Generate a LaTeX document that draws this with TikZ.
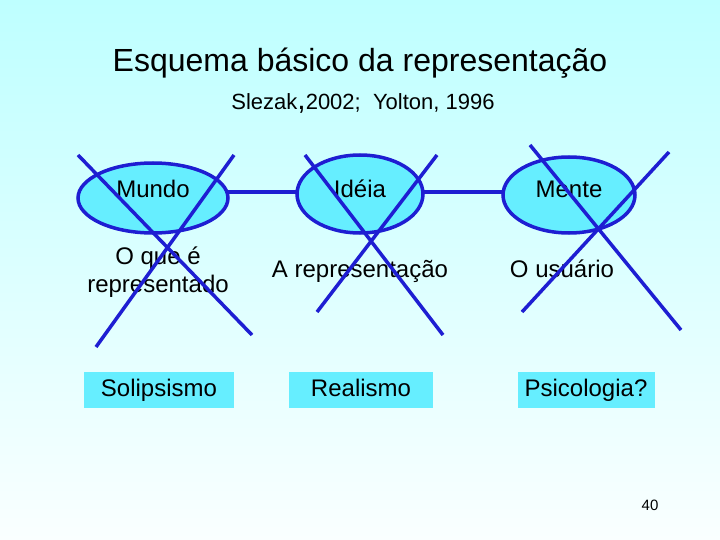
\documentclass[tikz,border=0pt]{standalone}
\usepackage{fontspec}
\setmainfont{Liberation Sans}
\definecolor{bgtop}{RGB}{190,255,255}
\definecolor{bgbot}{RGB}{250,255,255}
\definecolor{cyanfill}{RGB}{102,238,255}
\definecolor{xblue}{RGB}{30,30,210}
\begin{document}
\begin{tikzpicture}[x=1pt,y=-1pt,
  ell/.style={draw=xblue,line width=3.5pt,fill=cyanfill},
  lbl/.style={font=\fontsize{24}{28}\selectfont,align=center,text height=17pt,text depth=5pt},
  box/.style={fill=cyanfill,font=\fontsize{24}{28}\selectfont,minimum height=36pt,inner sep=0pt,text height=17pt,text depth=5pt},
  xline/.style={draw=xblue,line width=3.5pt}]
\shade[top color=bgtop,bottom color=bgbot] (0,0) rectangle (720,540);
\useasboundingbox (0,0) rectangle (720,540);
\node[font=\fontsize{32}{36}\selectfont] (title) at (360,63) {Esquema básico da representação};
\node[font=\fontsize{22}{26}\selectfont] (sub) at (363,103) {Slezak{\fontsize{30}{30}\selectfont,}2002; \ Yolton, 1996};
\path[xline] (153,192) -- (569,192);
\path[ell] (153,198) ellipse[x radius=75,y radius=35];
\path[ell] (360,194) ellipse[x radius=63,y radius=39];
\path[ell] (569,195) ellipse[x radius=66,y radius=38];
\node[lbl] (mundo) at (153,192) {Mundo};
\node[lbl] (ideia) at (360,192) {Idéia};
\node[lbl] (mente) at (569,192) {Mente};
\node[lbl] (oque) at (158,286) {O que é\\representado};
\node[lbl] (arep) at (360,271) {A representação};
\node[lbl] (ousu) at (562,271) {O usuário};
\node[box,minimum width=150pt] (sol) at (159,390) {Solipsismo};
\node[box,minimum width=144pt] (rea) at (361,390) {Realismo};
\node[box,minimum width=137pt] (psi) at (586,390) {Psicologia?};
\coordinate (a1) at (78,155); \coordinate (a2) at (252,335);
\coordinate (b1) at (234,155); \coordinate (b2) at (96,347);
\coordinate (c1) at (305,155); \coordinate (c2) at (443,335);
\coordinate (d1) at (437,155); \coordinate (d2) at (317,312);
\coordinate (e1) at (530,145); \coordinate (e2) at (681,330);
\coordinate (f1) at (669,152); \coordinate (f2) at (522,312);
\path[xline] (a1) -- (a2) (b1) -- (b2) (c1) -- (c2) (d1) -- (d2) (e1) -- (e2) (f1) -- (f2);
\node[font=\fontsize{15}{17}\selectfont] (num) at (650,505) {40};
\end{tikzpicture}
\end{document}
